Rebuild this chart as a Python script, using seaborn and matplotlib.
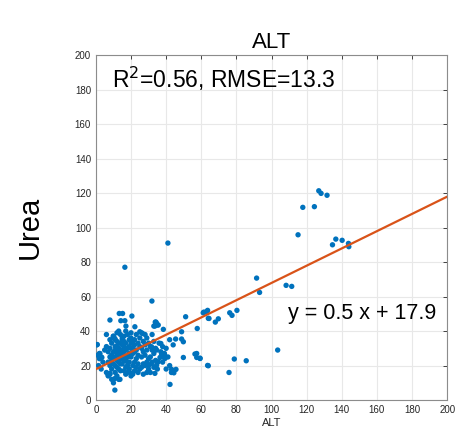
import numpy as np
import pandas as pd
import matplotlib
matplotlib.use("Agg")
import matplotlib.pyplot as plt
import seaborn as sns

sns.set_style("white")
plt.rcParams['font.family'] = ['Liberation Sans', 'DejaVu Sans']
plt.rcParams['text.color'] = 'black'

# ALT / Urea values (estimated)
alt_sparse = [126.9, 128.2, 131.6, 117.8, 124.4, 115.1, 134.7, 136.6, 140.2, 143.8,
              144.0, 91.5, 93.2, 108.3, 111.5, 103.5, 80.3, 76.2, 77.5, 69.7,
              68.0, 64.0, 63.6, 61.5, 59.3, 63.6, 75.8, 78.8, 85.6, 41.0,
              16.5, 31.9, 64.4, 51.1, 61.1, 63.0, 48.8, 45.4, 48.8, 49.8,
              57.4, 57.7, 49.8, 56.4, 57.4, 59.3, 43.1, 45.6, 44.4, 42.2, 64.0,
              38.4, 37.0, 39.0, 37.6]
urea_sparse = [121.3, 119.8, 118.7, 111.7, 112.1, 95.8, 90.0, 93.3, 92.6, 90.8,
               88.9, 70.7, 62.4, 66.5, 65.9, 29.0, 52.0, 50.6, 49.1, 47.1,
               45.2, 47.4, 52.0, 51.0, 24.3, 20.1, 16.0, 23.8, 22.8, 91.0,
               77.0, 57.4, 47.3, 48.3, 50.6, 51.2, 39.6, 35.4, 35.4, 33.8,
               27.0, 41.5, 24.7, 26.7, 24.7, 24.1, 17.8, 17.8, 15.8, 9.1, 19.9,
               41.0, 32.8, 26.6, 26.6]

alt_dense = [13.3, 15.2, 8.0, 14.2, 16.5, 20.5, 17.1, 22.2, 33.8, 34.6, 33.0, 35.5,
             0.8, 2.3, 3.4, 9.9, 10.8, 25.0, 26.6, 10.8, 10.8, 13.7, 8.0, 7.0, 20.3,
             0.5, 1.0, 2.0, 3.0, 2.0, 4.0, 1.5, 3.0,
             6, 7, 8, 8, 9, 7, 8, 9, 6, 8, 7, 9, 10, 9, 6, 8, 9, 10, 5,
             10, 11, 12, 12, 13, 11, 14, 12, 13, 11, 14, 12, 13, 14, 11, 12, 13, 14, 11,
             12, 13, 10, 14, 13, 12, 15, 14, 11, 10, 10, 14, 13, 12,
             15, 16, 17, 15, 16, 18, 17, 16, 19, 15, 18, 17, 16, 19, 15, 18, 17, 19, 16,
             18, 17, 20, 16, 18, 17, 19, 15, 16, 18, 19, 20,
             20, 21, 22, 21, 23, 22, 21, 24, 20, 23, 22, 24, 21, 23, 25, 22, 24, 21, 20,
             23, 25, 24, 22, 20, 25,
             26, 27, 28, 26, 29, 27, 28, 26, 30, 29, 27, 28, 26, 30, 29, 27, 30, 29, 28,
             31, 32, 33, 31, 34, 32, 30, 33, 35, 31, 32, 34, 33,
             36, 38, 40, 37, 39, 41, 38, 42, 40, 43, 44, 42,
             34.6, 33.6, 34.9, 34.2, 31.7, 34.6, 37.4, 38.4, 36.5, 39.3, 35.5, 34.6, 31.7, 33.6]
urea_dense = [50.2, 50.2, 46.4, 46.0, 46.0, 48.7, 42.9, 42.5, 45.2, 44.1, 42.9, 43.5,
              32.2, 27.0, 24.7, 37.0, 35.7, 39.6, 38.6, 5.8, 12.5, 12.0, 15.5, 14.5, 15.5,
              32, 26, 27, 25, 24, 22, 20, 18,
              31, 28, 35, 30, 26, 22, 20, 18, 16, 15, 14, 12, 37, 33, 38, 25, 23, 21, 29,
              36, 35, 34, 31, 30, 29, 28, 27, 26, 25, 24, 23, 22, 21, 20, 19, 18, 17, 16,
              14, 12, 10, 38, 40, 39, 36, 33, 31, 28, 24, 26, 33, 29,
              35, 34, 33, 32, 31, 30, 29, 28, 27, 26, 25, 24, 23, 22, 21, 20, 19, 18, 17,
              16, 15, 14, 37, 38, 40, 35, 29, 25, 22, 31, 33,
              36, 34, 32, 30, 29, 28, 27, 26, 25, 24, 22, 21, 20, 19, 18, 17, 16, 15, 39,
              38, 36, 33, 35, 30, 31,
              39, 34, 32, 30, 29, 28, 26, 25, 24, 22, 21, 20, 19, 18, 16, 15, 33, 36, 38,
              31, 29, 27, 25, 23, 22, 20, 19, 18, 16, 38, 30, 34,
              33, 31, 30, 28, 27, 25, 22, 20, 18, 16, 32, 35,
              44.4, 42.9, 43.5, 45.2, 30.9, 29.0, 26.1, 25.1, 24.7, 24.1, 22.2, 20.3, 21.2, 15.5]

slope = 0.5
intercept = 17.9
r2 = 0.56
rmse = 13.3

df = pd.DataFrame({'ALT': alt_sparse + alt_dense, 'Urea': urea_sparse + urea_dense})

fig = plt.figure(figsize=(4.61, 4.33), dpi=100)
ax = fig.add_axes([0.208, 0.076, 0.762, 0.797])

sns.scatterplot(data=df, x='ALT', y='Urea', ax=ax, color='#0072BD', s=15,
                edgecolor='none', linewidth=0, zorder=3)
ax.axline((0, intercept), slope=slope, color='#D95319', linewidth=1.6, zorder=4)

ax.set_xlim(0, 200)
ax.set_ylim(0, 200)
ax.set_xticks(range(0, 201, 20))
ax.set_yticks(range(0, 201, 20))
ax.grid(True, color='#e8e8e8', linewidth=0.8, zorder=0)
ax.set_axisbelow(True)
ax.tick_params(direction='in', length=3, width=0.6, labelsize=7, colors='#262626',
               top=True, right=True)
for sp in ax.spines.values():
    sp.set_color('#8c8c8c')
    sp.set_linewidth(0.8)

ax.set_xlabel('ALT', fontsize=8, labelpad=2, color='#262626')
ax.set_ylabel('Urea', fontsize=21, labelpad=22, color='black')
ax.set_title('ALT', fontsize=16, pad=5, color='black')

ax.text(0.045, 0.905, f'R$^2$={r2:.2f}, RMSE={rmse:.1f}', transform=ax.transAxes,
        fontsize=16.5, va='baseline', ha='left', color='black')
ax.text(0.97, 0.235, f'y = {slope:.1f} x + {intercept:.1f}', transform=ax.transAxes,
        fontsize=15.5, va='baseline', ha='right', color='black')

fig.savefig('out.png', dpi=100)
